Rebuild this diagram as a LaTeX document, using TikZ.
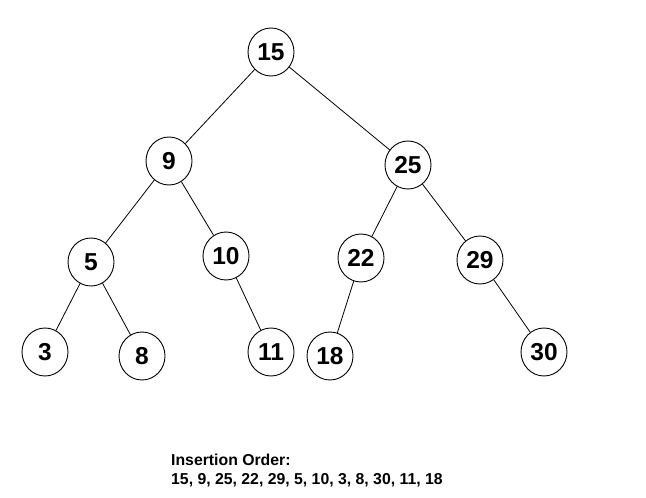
\documentclass[tikz,border=0pt]{standalone}
\usepackage{fontspec}
\setmainfont{Liberation Sans}
\usetikzlibrary{shapes.geometric}
\begin{document}
\begin{tikzpicture}[x=1pt,y=-1pt,
  bst/.style={ellipse,draw,line width=0.9pt,minimum width=46pt,minimum height=48pt,inner sep=0pt,
    font=\fontsize{24.5}{24.5}\selectfont\bfseries},
  edge/.style={line width=0.8pt},
  caption/.style={anchor=base west,inner sep=0pt,font=\fontsize{15.8}{19}\selectfont\bfseries}]
\useasboundingbox (0,0) rectangle (646,498);
\node[bst] (n15) at (271,52) {15};
\node[bst] (n9) at (169,161) {9};
\node[bst] (n25) at (408,165) {25};
\node[bst] (n5) at (91,262) {5};
\node[bst] (n10) at (226,256) {10};
\node[bst] (n22) at (361,258) {22};
\node[bst] (n29) at (480,260) {29};
\node[bst] (n3) at (45,352) {3};
\node[bst] (n8) at (142,356) {8};
\node[bst] (n11) at (271,352) {11};
\node[bst] (n18) at (330,356) {18};
\node[bst] (n30) at (544,352) {30};
\draw[edge] (n15) -- (n9);
\draw[edge] (n15) -- (n25);
\draw[edge] (n9) -- (n5);
\draw[edge] (n9) -- (n10);
\draw[edge] (n25) -- (n22);
\draw[edge] (n25) -- (n29);
\draw[edge] (n5) -- (n3);
\draw[edge] (n5) -- (n8);
\draw[edge] (n10) -- (n11);
\draw[edge] (n22) -- (n18);
\draw[edge] (n29) -- (n30);
\node[caption] (cap1) at (171,465) {Insertion Order:};
\node[caption] (cap2) at (171,484) {15, 9, 25, 22, 29, 5, 10, 3, 8, 30, 11, 18};
\end{tikzpicture}
\end{document}
